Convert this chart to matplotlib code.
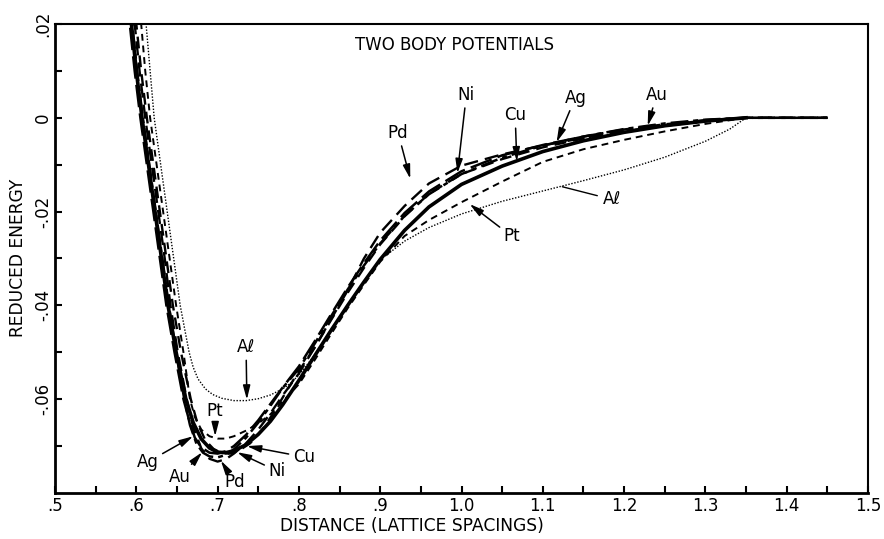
import matplotlib
matplotlib.use('Agg')
import matplotlib.pyplot as plt

# ---------------------------------
# Data (distance in lattice spacings, reduced energy)
# ---------------------------------
cu_x = [0.588, 0.594, 0.600, 0.607, 0.615, 0.623, 0.631, 0.639, 0.649, 0.661, 0.670, 0.680, 0.690,
        0.700, 0.710, 0.720, 0.735, 0.750, 0.765, 0.780, 0.800, 0.820, 0.840, 0.860, 0.880, 0.900,
        0.930, 0.960, 1.000, 1.050, 1.100, 1.150, 1.200, 1.250, 1.300, 1.350]
cu_y = [0.035, 0.02, 0.01, 0.0, -0.01, -0.02, -0.03, -0.04, -0.05, -0.06, -0.065, -0.0685, -0.0704,
        -0.0713, -0.0714, -0.0710, -0.0697, -0.0675, -0.0647, -0.0612, -0.0560, -0.0506, -0.0452,
        -0.0400, -0.0350, -0.0302, -0.0240, -0.0190, -0.0142, -0.0103, -0.0072, -0.0049, -0.0031,
        -0.0017, -0.0007, 0.0]

pd_x = [0.590, 0.598, 0.604, 0.611, 0.619, 0.627, 0.635, 0.642, 0.651, 0.662, 0.670, 0.680, 0.690,
        0.700, 0.710, 0.720, 0.735, 0.750, 0.765, 0.780, 0.800, 0.820, 0.840, 0.860, 0.880, 0.900,
        0.930, 0.960, 1.000, 1.050, 1.100, 1.150, 1.200, 1.250, 1.300, 1.350, 1.450]
pd_y = [0.035, 0.02, 0.01, 0.0, -0.01, -0.02, -0.03, -0.04, -0.05, -0.06, -0.066, -0.0705, -0.0727,
        -0.0733, -0.0728, -0.0716, -0.0694, -0.0665, -0.0630, -0.0592, -0.0545, -0.0488, -0.0428,
        -0.0368, -0.0300, -0.0245, -0.0188, -0.0140, -0.0102, -0.0078, -0.0059, -0.0043, -0.0029,
        -0.0017, -0.0007, 0.0, 0.0]

ag_x = [0.586, 0.592, 0.598, 0.605, 0.613, 0.621, 0.629, 0.637, 0.647, 0.658, 0.665, 0.672, 0.680,
        0.690, 0.700, 0.710, 0.720, 0.735, 0.750, 0.765, 0.780, 0.800, 0.820, 0.840, 0.860, 0.880,
        0.900, 0.930, 0.960, 1.000, 1.050, 1.100, 1.150, 1.200, 1.250, 1.300, 1.350, 1.450]
ag_y = [0.035, 0.02, 0.01, 0.0, -0.01, -0.02, -0.03, -0.04, -0.05, -0.06, -0.0645, -0.0682, -0.0703,
        -0.0714, -0.0716, -0.0711, -0.0700, -0.0676, -0.0645, -0.0610, -0.0575, -0.0530, -0.0475,
        -0.0418, -0.0362, -0.0310, -0.0262, -0.0203, -0.0157, -0.0114, -0.0080, -0.0058, -0.0040,
        -0.0025, -0.0014, -0.0005, 0.0, 0.0]

ni_x = [0.594, 0.600, 0.606, 0.613, 0.621, 0.629, 0.637, 0.645, 0.655, 0.667, 0.675, 0.685, 0.695,
        0.705, 0.715, 0.725, 0.740, 0.755, 0.770, 0.785, 0.800, 0.820, 0.840, 0.860, 0.880, 0.900,
        0.930, 0.960, 1.000, 1.050, 1.100, 1.150, 1.200, 1.250, 1.300, 1.350, 1.450]
ni_y = [0.035, 0.02, 0.01, 0.0, -0.01, -0.02, -0.03, -0.04, -0.05, -0.06, -0.065, -0.0688, -0.0706,
        -0.0715, -0.0716, -0.0711, -0.0694, -0.0665, -0.0626, -0.0582, -0.0540, -0.0488, -0.0430,
        -0.0373, -0.0320, -0.0270, -0.0210, -0.0162, -0.0120, -0.0088, -0.0063, -0.0044, -0.0029,
        -0.0017, -0.0007, 0.0, 0.0]

au_x = [0.588, 0.595, 0.601, 0.608, 0.616, 0.624, 0.632, 0.640, 0.649, 0.659, 0.666, 0.674, 0.682,
        0.690, 0.700, 0.710, 0.720, 0.735, 0.750, 0.765, 0.780, 0.800, 0.820, 0.840, 0.860, 0.880,
        0.900, 0.930, 0.960, 1.000, 1.050, 1.100, 1.150, 1.200, 1.250, 1.300, 1.350, 1.450]
au_y = [0.035, 0.02, 0.01, 0.0, -0.01, -0.02, -0.03, -0.04, -0.05, -0.06, -0.0655, -0.0695, -0.0714,
        -0.0722, -0.0724, -0.0719, -0.0707, -0.0682, -0.0650, -0.0614, -0.0576, -0.0535, -0.0480,
        -0.0422, -0.0366, -0.0315, -0.0268, -0.0209, -0.0163, -0.0120, -0.0085, -0.0059, -0.0040,
        -0.0024, -0.0012, -0.0004, 0.0, 0.0]

pt_x = [0.600, 0.606, 0.611, 0.617, 0.625, 0.633, 0.641, 0.649, 0.658, 0.666, 0.672, 0.680, 0.690,
        0.700, 0.710, 0.720, 0.735, 0.750, 0.765, 0.780, 0.800, 0.820, 0.840, 0.860, 0.880, 0.900,
        0.930, 0.960, 1.000, 1.050, 1.100, 1.150, 1.200, 1.250, 1.300, 1.350, 1.450]
pt_y = [0.035, 0.02, 0.01, 0.0, -0.01, -0.02, -0.03, -0.04, -0.05, -0.06, -0.0638, -0.0665, -0.0679,
        -0.0684, -0.0684, -0.0679, -0.0667, -0.0652, -0.0632, -0.0605, -0.0568, -0.0515, -0.0460,
        -0.0406, -0.0356, -0.0307, -0.0252, -0.0218, -0.0180, -0.0136, -0.0094, -0.0067, -0.0047,
        -0.0029, -0.0013, 0.0, 0.0]

al_x = [0.606, 0.612, 0.617, 0.622, 0.630, 0.638, 0.646, 0.654, 0.660, 0.665, 0.670, 0.676, 0.685,
        0.694, 0.705, 0.720, 0.735, 0.750, 0.765, 0.780, 0.790, 0.800, 0.820, 0.840, 0.860, 0.880,
        0.900, 0.930, 0.960, 1.000, 1.050, 1.100, 1.150, 1.200, 1.250, 1.300, 1.330, 1.350, 1.450]
al_y = [0.035, 0.02, 0.01, 0.0, -0.01, -0.02, -0.03, -0.04, -0.0455, -0.0500, -0.0532, -0.0557, -0.0578,
        -0.0590, -0.0598, -0.0603, -0.0603, -0.0599, -0.0591, -0.0578, -0.0566, -0.0548, -0.0505,
        -0.0452, -0.0402, -0.0352, -0.0303, -0.0263, -0.0234, -0.0205, -0.0178, -0.0156, -0.0134,
        -0.0111, -0.0084, -0.0050, -0.0024, 0.0, 0.0]

x_ticks = [0.5, 0.6, 0.7, 0.8, 0.9, 1.0, 1.1, 1.2, 1.3, 1.4, 1.5]
x_tick_labels = ['.5', '.6', '.7', '.8', '.9', '1.0', '1.1', '1.2', '1.3', '1.4', '1.5']
y_ticks = [0.02, 0.0, -0.02, -0.04, -0.06]
y_tick_labels = ['.02', '0', '-.02', '-.04', '-.06']

# label text, arrow tip, text position
labels_low = [
    ('Ag', (0.670, -0.0679), (0.614, -0.0734)),
    ('Au', (0.681, -0.0713), (0.654, -0.0766)),
    ('Pd', (0.704, -0.0731), (0.721, -0.0777)),
    ('Ni', (0.724, -0.0713), (0.773, -0.0753)),
    ('Cu', (0.736, -0.0700), (0.806, -0.0723)),
    ('Pt', (0.697, -0.0679), (0.697, -0.0626)),
    ('Aℓ', (0.736, -0.0601), (0.735, -0.0489)),
]
labels_high = [
    ('Pd', (0.937, -0.0130), (0.922, -0.0032)),
    ('Ni', (0.995, -0.0118), (1.006, 0.0049)),
    ('Cu', (1.068, -0.0093), (1.066, 0.0006)),
    ('Ag', (1.117, -0.0052), (1.140, 0.0043)),
    ('Au', (1.229, -0.0017), (1.240, 0.0049)),
    ('Pt', (1.010, -0.0184), (1.062, -0.0253)),
]

# ---------------------------------
# Plot
# ---------------------------------
plt.rcParams['font.family'] = ['DejaVu Sans']

fig = plt.figure(figsize=(8.84, 5.39), dpi=100)
ax = fig.add_axes([55 / 884, 1 - 493 / 539, 813 / 884, 469 / 539])

ax.plot(ag_x, ag_y, color='k', lw=1.8, dashes=(9, 2.5))
ax.plot(au_x, au_y, color='k', lw=1.8, dashes=(7, 2, 2, 2))
ax.plot(pd_x, pd_y, color='k', lw=1.7, dashes=(6, 3))
ax.plot(ni_x, ni_y, color='k', lw=1.7, dashes=(5, 3))
ax.plot(pt_x, pt_y, color='k', lw=1.4, dashes=(3.5, 2.5))
ax.plot(al_x, al_y, color='k', lw=1.0, dashes=(1, 1.2))
ax.plot(cu_x, cu_y, color='k', lw=2.6)

ax.set_xlim(0.5, 1.5)
ax.set_ylim(-0.08, 0.02)

ax.set_xticks(x_ticks)
ax.set_xticklabels(x_tick_labels, fontsize=12)
ax.set_xticks([t + 0.05 for t in x_ticks[:-1]], minor=True)
ax.set_yticks(y_ticks)
ax.set_yticklabels(y_tick_labels, fontsize=12, rotation=90, va='center')
ax.set_yticks([0.01, -0.01, -0.03, -0.05, -0.07], minor=True)
ax.tick_params(which='both', direction='in', length=5, width=1.5, top=False, right=False)
ax.tick_params(axis='x', pad=3)
ax.tick_params(axis='y', pad=2)

for side in ['left', 'bottom']:
    ax.spines[side].set_linewidth(2.0)
for side in ['top', 'right']:
    ax.spines[side].set_linewidth(1.5)

arrow = dict(arrowstyle='-|>,head_length=0.7,head_width=0.18', color='k', lw=1.1,
             shrinkA=1, shrinkB=0)
for name, tip, pos in labels_low + labels_high:
    ax.annotate(name, xy=tip, xytext=pos, ha='center', va='center', fontsize=12,
                arrowprops=arrow)
# Al label on the upper branch uses a plain leader line
ax.annotate('Aℓ', xy=(1.124, -0.0147), xytext=(1.185, -0.0174), ha='center', va='center',
            fontsize=12, arrowprops=dict(arrowstyle='-', color='k', lw=1, shrinkA=2, shrinkB=0))

ax.text(0.992, 0.0155, 'TWO BODY POTENTIALS', ha='center', va='center', fontsize=12)

fig.text(18 / 884, 1 - 258 / 539, 'REDUCED ENERGY', rotation=90, ha='center', va='center',
         fontsize=12.3)
fig.text(412 / 884, 1 - 526 / 539, 'DISTANCE (LATTICE SPACINGS)', ha='center', va='center',
         fontsize=12.3)

fig.savefig('out.png', dpi=100)
